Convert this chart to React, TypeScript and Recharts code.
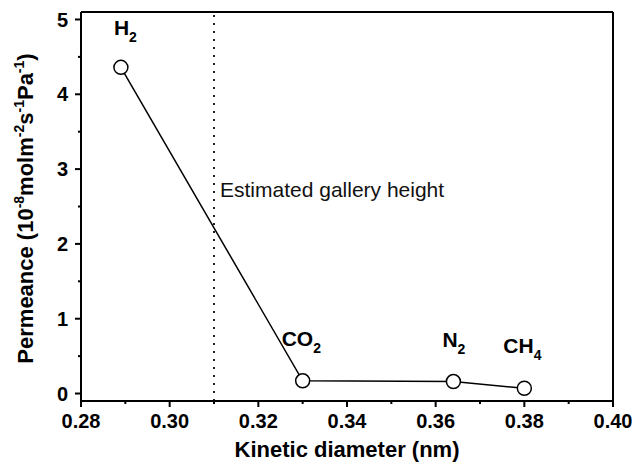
import { LineChart, Line, XAxis, YAxis, ReferenceLine, LabelList, Label } from 'recharts';

const gases = ["H2", "CO2", "N2", "CH4"];
const kineticDiameter = [0.289, 0.33, 0.364, 0.38];
const permeance = [4.36, 0.17, 0.16, 0.07];

const xMajorTicks = [0.28, 0.30, 0.32, 0.34, 0.36, 0.38, 0.40];
const xMinorTicks = [0.29, 0.31, 0.33, 0.35, 0.37, 0.39];
const yMajorTicks = [0, 1, 2, 3, 4, 5];
const yMinorTicks = [0.5, 1.5, 2.5, 3.5, 4.5];

const galleryHeight = 0.31;

const data = gases.map((name, i) => ({
    name,
    x: kineticDiameter[i],
    y: permeance[i],
}));

const font = "'Liberation Sans', Arial, Helvetica, sans-serif";

// label placement relative to each point (start x, baseline)
const labelOffsets: Record<string, [number, number]> = {
    H2: [-7, -32],
    CO2: [-21, -35],
    N2: [-11, -35],
    CH4: [-21, -35],
};

const isMajor = (list: number[], v: number) => list.some((t) => Math.abs(t - v) < 1e-6);

const XTick = (props: any) => {
    const { x, y, payload } = props;
    const major = isMajor(xMajorTicks, payload.value);
    return (
        <g>
            <line x1={x} x2={x} y1={y} y2={y + (major ? 6 : 3)} stroke="#000" strokeWidth={2} />
            {major && (
                <text x={x} y={y + 27} textAnchor="middle" fontFamily={font} fontWeight="bold" fontSize={20} fill="#000">
                    {payload.value.toFixed(2)}
                </text>
            )}
        </g>
    );
};

const YTick = (props: any) => {
    const { x, y, payload } = props;
    const major = isMajor(yMajorTicks, payload.value);
    return (
        <g>
            <line x1={x - (major ? 6 : 3)} x2={x} y1={y} y2={y} stroke="#000" strokeWidth={2} />
            {major && (
                <text x={x - 13} y={y} dy="0.36em" textAnchor="end" fontFamily={font} fontWeight="bold" fontSize={20} fill="#000">
                    {payload.value}
                </text>
            )}
        </g>
    );
};

const GasLabel = (props: any) => {
    const { x, y, value } = props;
    const name = String(value);
    const m = name.match(/^([A-Za-z]+)(\d*)$/);
    const main = m ? m[1] : name;
    const sub = m ? m[2] : "";
    const [dx, dy] = labelOffsets[name] || [0, -30];
    return (
        <text x={x + dx} y={y + dy} textAnchor="start" fontFamily={font} fontWeight="bold" fontSize={21} fill="#000">
            <tspan>{main}</tspan>
            {sub && (
                <tspan dy={7} fontSize={14}>
                    {sub}
                </tspan>
            )}
        </text>
    );
};

// y title pieces: [text, superscript?]
const yTitleParts: [string, boolean][] = [
    ["Permeance (10", false],
    ["-8", true],
    ["molm", false],
    ["-2", true],
    ["s", false],
    ["-1", true],
    ["Pa", false],
    ["-1", true],
    [")", false],
];

const YAxisTitle = (props: any) => {
    const vb = props.viewBox || { x: 0, y: 12, width: 81, height: 389 };
    const cx = 33;
    const cy = vb.y + vb.height / 2 + 2;
    let prevSup = false;
    return (
        <text
            x={cx}
            y={cy}
            transform={`rotate(-90 ${cx} ${cy})`}
            textAnchor="middle"
            fontFamily={font}
            fontWeight="bold"
            fontSize={22}
            fill="#000"
        >
            {yTitleParts.map(([t, isSup], i) => {
                const dy = isSup && !prevSup ? -9 : !isSup && prevSup ? 9 : 0;
                prevSup = isSup;
                return (
                    <tspan key={i} dy={dy} fontSize={isSup ? 14 : 22}>
                        {t}
                    </tspan>
                );
            })}
        </text>
    );
};

const GalleryLabel = (props: any) => {
    const vb = props.viewBox || { x: 214, y: 12 };
    return (
        <text x={vb.x + 6} y={vb.y + 185} fontFamily={font} fontSize={21} fill="#111">
            Estimated gallery height
        </text>
    );
};

const App = () => {
    const xTicks = [...xMajorTicks, ...xMinorTicks].sort((a, b) => a - b);
    const yTicks = [...yMajorTicks, ...yMinorTicks].sort((a, b) => a - b);

    return (
        <div style={{ position: "absolute", left: 0, top: 0, width: 634, height: 462, background: "#fff" }}>
            <LineChart width={634} height={462} data={data} margin={{ top: 12, right: 21, left: 0, bottom: 0 }}>
                <XAxis
                    type="number"
                    dataKey="x"
                    domain={[0.28, 0.40]}
                    allowDataOverflow
                    ticks={xTicks}
                    interval={0}
                    tick={<XTick />}
                    tickLine={false}
                    tickSize={0}
                    tickMargin={0}
                    height={61}
                    axisLine={{ stroke: "#000", strokeWidth: 2 }}
                >
                    <Label
                        value="Kinetic diameter (nm)"
                        position="insideBottom"
                        offset={5}
                        fontFamily={font}
                        fontWeight="bold"
                        fontSize={22}
                        fill="#000"
                    />
                </XAxis>
                <YAxis
                    type="number"
                    domain={[-0.1, 5.1]}
                    allowDataOverflow
                    ticks={yTicks}
                    interval={0}
                    tick={<YTick />}
                    tickLine={false}
                    tickSize={0}
                    tickMargin={0}
                    width={81}
                    axisLine={{ stroke: "#000", strokeWidth: 2 }}
                    label={{ content: <YAxisTitle /> }}
                />
                <ReferenceLine y={5.1} stroke="#000" strokeWidth={2} />
                <ReferenceLine x={0.40} stroke="#000" strokeWidth={2} />
                <ReferenceLine
                    x={galleryHeight}
                    stroke="#222"
                    strokeWidth={2}
                    strokeDasharray="2 6"
                    label={{ content: <GalleryLabel /> }}
                />
                <Line
                    type="linear"
                    dataKey="y"
                    stroke="#000"
                    strokeWidth={1.5}
                    isAnimationActive={false}
                    dot={{ r: 7, fill: "#fff", stroke: "#000", strokeWidth: 1.5 }}
                    activeDot={false}
                >
                    <LabelList dataKey="name" content={<GasLabel />} />
                </Line>
            </LineChart>
        </div>
    );
};

export default App;
